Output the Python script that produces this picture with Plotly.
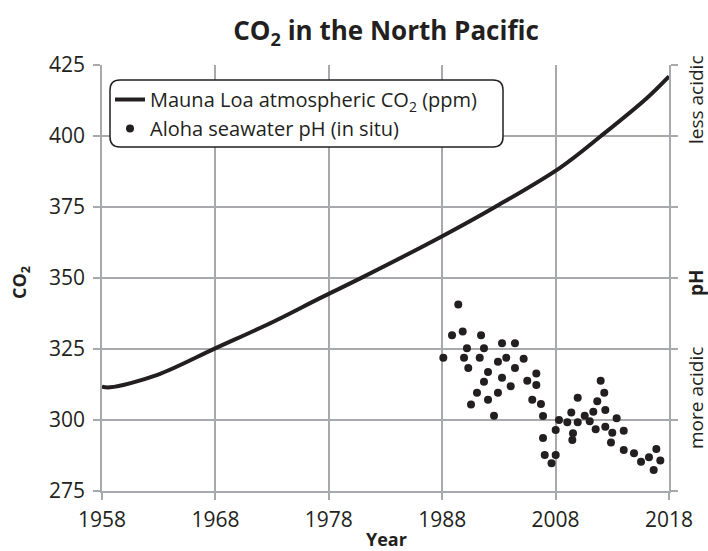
import plotly.graph_objects as go

# ---- data ----
x_tick_vals = [1958, 1970, 1982, 1994, 2006, 2018]
x_tick_text = ["1958", "1968", "1978", "1988", "2008", "2018"]
y_tick_vals = [275, 300, 325, 350, 375, 400, 425]
ph_tick_vals = [8.04, 8.065, 8.09, 8.115, 8.14, 8.165, 8.19]

co2_x = [1958.0, 1958.85, 1963.79, 1970.03, 1976.13, 1981.07, 1985.65,
         1994.05, 1999.59, 2006.46, 2010.8, 2015.64, 2018.0]
co2_ppm = [311.7, 311.5, 315.8, 325.3, 334.6, 342.9, 350.4,
           364.8, 375.0, 388.8, 400.0, 413.3, 421.0]

ph_x = [1994.12, 1995.04, 1995.70, 1996.17, 1996.31, 1996.62, 1996.76, 1997.05,
        1997.68, 1997.97, 1998.11, 1998.42, 1998.42, 1998.85, 1998.85, 1999.48,
        1999.90, 1999.90, 2000.33, 2000.33, 2000.78, 2001.25, 2001.70, 2001.70,
        2002.62, 2003.00, 2003.53, 2003.96, 2003.96, 2004.45, 2004.67, 2004.67,
        2004.85, 2005.57, 2006.01, 2006.01, 2006.36, 2007.24, 2007.77, 2007.66,
        2007.84, 2008.34, 2008.34, 2009.08, 2009.61, 2009.99, 2010.24, 2010.41,
        2010.77, 2011.15, 2011.26, 2011.26, 2011.86, 2012.00, 2012.46, 2013.21,
        2013.21, 2014.30, 2015.04, 2015.88, 2016.66, 2016.38, 2017.08]
ph_val = [8.0869, 8.0948, 8.1057, 8.0962, 8.0869, 8.0903, 8.0833, 8.0705,
          8.0746, 8.0869, 8.0948, 8.0903, 8.0785, 8.0819, 8.0721, 8.0665,
          8.0855, 8.0746, 8.0920, 8.0799, 8.0869, 8.0769, 8.0920, 8.0833,
          8.0866, 8.0788, 8.0721, 8.0814, 8.0773, 8.0706, 8.0664, 8.0587,
          8.0527, 8.0498, 8.0615, 8.0527, 8.0650, 8.0642, 8.0580, 8.0676,
          8.0603, 8.0728, 8.0642, 8.0665, 8.0646, 8.0679, 8.0617, 8.0716,
          8.0788, 8.0746, 8.0685, 8.0626, 8.0571, 8.0605, 8.0656, 8.0612,
          8.0544, 8.0533, 8.0503, 8.0519, 8.0548, 8.0474, 8.0507]

# ---- style ----
INK = "#231f20"
GRID = "#a7a9ac"
FONT = "Open Sans"

fig = go.Figure()
fig.add_trace(go.Scatter(
    x=co2_x, y=co2_ppm, mode="lines",
    line=dict(color=INK, width=4, shape="spline", smoothing=1.0),
    name="Mauna Loa atmospheric CO<sub>2</sub> (ppm)", yaxis="y"))
fig.add_trace(go.Scatter(
    x=ph_x, y=ph_val, mode="markers",
    marker=dict(color=INK, size=8),
    name="Aloha seawater pH (in situ)", yaxis="y2"))

W, H = 708, 551
L, R, T, B = 102, 39, 65, 60
pw, ph = W - L - R, H - T - B

def px(xp):  # page pixel -> paper x
    return (xp - L) / pw

def py(yp):  # page pixel -> paper y
    return (H - B - yp) / ph

# rounded legend box
x0, x1, y0, y1 = px(110), px(503), py(147), py(80)
rx, ry = 10 / pw, 10 / ph
path = (f"M {x0+rx},{y1} L {x1-rx},{y1} Q {x1},{y1} {x1},{y1-ry} "
        f"L {x1},{y0+ry} Q {x1},{y0} {x1-rx},{y0} L {x0+rx},{y0} "
        f"Q {x0},{y0} {x0},{y0+ry} L {x0},{y1-ry} Q {x0},{y1} {x0+rx},{y1} Z")

axis_common = dict(showgrid=True, gridcolor=GRID, gridwidth=1.5,
                   showline=True, linecolor=GRID, linewidth=1.5,
                   ticks="outside", ticklen=7, tickcolor=GRID, tickwidth=1.5,
                   zeroline=False, tickfont=dict(size=21, color=INK))

fig.update_layout(
    width=W, height=H,
    margin=dict(l=L, r=R, t=T, b=B),
    paper_bgcolor="white", plot_bgcolor="white",
    font=dict(family=FONT, color=INK, size=19),
    title=dict(text="<b>CO<sub>2</sub> in the North Pacific</b>",
               xref="paper", x=px(386), xanchor="center",
               yref="container", y=1 - 31 / H, yanchor="middle",
               font=dict(size=26, family=FONT, color=INK)),
    showlegend=True,
    legend=dict(x=px(110), y=py(80), xanchor="left", yanchor="top",
                bgcolor="rgba(0,0,0,0)", borderwidth=0,
                font=dict(size=20, family=FONT, color=INK),
                itemwidth=30, tracegroupgap=0),
    xaxis=dict(range=[1958, 2018], tickvals=x_tick_vals,
               ticktext=x_tick_text, ticklabelstandoff=2, **axis_common),
    yaxis=dict(range=[275, 425], tickvals=y_tick_vals,
               ticklabelstandoff=4, **axis_common),
    yaxis2=dict(range=[8.04, 8.19], tickvals=ph_tick_vals, overlaying="y",
                side="right", showticklabels=False, showgrid=False,
                showline=True, linecolor=GRID, linewidth=1.5,
                ticks="outside", ticklen=7, tickcolor=GRID, tickwidth=1.5,
                zeroline=False),
    shapes=[dict(type="path", path=path, xref="paper", yref="paper",
                 fillcolor="white", line=dict(color=INK, width=1.5),
                 layer="above")],
    annotations=[
        dict(text="<b>CO<sub>2</sub></b>", x=px(20), y=py(283), xref="paper",
             yref="paper", textangle=-90, showarrow=False,
             font=dict(size=18), xanchor="center", yanchor="middle"),
        dict(text="<b>Year</b>", x=px(386), y=py(539), xref="paper",
             yref="paper", showarrow=False, font=dict(size=18),
             xanchor="center", yanchor="middle"),
        dict(text="less acidic", x=px(696), y=py(100), xref="paper",
             yref="paper", textangle=-90, showarrow=False,
             font=dict(size=19), xanchor="center", yanchor="middle"),
        dict(text="<b>pH</b>", x=px(696), y=py(283), xref="paper",
             yref="paper", textangle=-90, showarrow=False,
             font=dict(size=19), xanchor="center", yanchor="middle"),
        dict(text="more acidic", x=px(696), y=py(398), xref="paper",
             yref="paper", textangle=-90, showarrow=False,
             font=dict(size=19), xanchor="center", yanchor="middle"),
    ],
)

fig.write_html("out.html",
               config={"displayModeBar": False},
               post_script="document.body.style.margin='0';"
                           "document.body.style.overflow='hidden';")
